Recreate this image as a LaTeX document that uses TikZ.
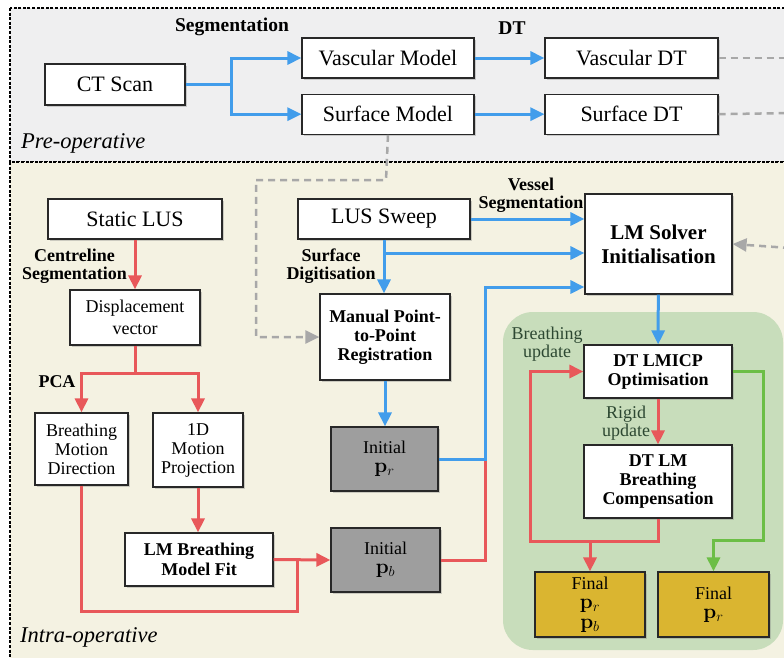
\documentclass[tikz,border=0pt]{standalone}
\usepackage[no-math]{fontspec}
\setmainfont{Liberation Serif}
\usepackage{amsmath}
\usepackage{tikz}
\usetikzlibrary{positioning,calc,arrows.meta,shadows}
\definecolor{preop}{RGB}{239,239,240}
\definecolor{intraop}{RGB}{244,242,226}
\definecolor{loopbg}{RGB}{200,221,187}
\definecolor{flowblue}{RGB}{66,157,235}
\definecolor{flowred}{RGB}{232,88,90}
\definecolor{flowgreen}{RGB}{108,190,70}
\definecolor{flowgray}{RGB}{168,168,168}
\definecolor{initgray}{RGB}{158,158,158}
\definecolor{finalgold}{RGB}{218,181,48}
\definecolor{boxline}{RGB}{40,40,40}
\definecolor{notegreen}{RGB}{45,72,50}
\newcommand{\posevec}[1]{{\fontsize{20.74}{18}\selectfont$\mathbf{p}_{#1}$}}

\begin{document}
\begin{tikzpicture}[x=1pt, y=-1pt, every node/.style={font=\rmfamily}]
  \tikzstyle{box}=[draw=boxline, line width=1.2pt, fill=white, inner sep=1pt, align=center,
    drop shadow={shadow xshift=1.5pt, shadow yshift=-1.5pt, opacity=0.35}]
  \tikzstyle{big}=[font=\fontsize{22}{24}\selectfont]
  \tikzstyle{small}=[font=\fontsize{18}{19}\selectfont]
  \tikzstyle{smallbf}=[font=\fontsize{18}{19}\selectfont\bfseries]
  \tikzstyle{lbl}=[font=\fontsize{18}{18}\selectfont\bfseries, align=center, inner sep=0pt]
  \tikzstyle{note}=[font=\fontsize{18}{18}\selectfont, text=notegreen, align=center, inner sep=0pt]
  \tikzstyle{phase}=[font=\fontsize{22.5}{22}\selectfont\itshape, anchor=west, inner sep=0pt]
  \tikzstyle{region}=[draw=black, line width=1.6pt, dash pattern=on 3pt off 1.6pt]
  \tikzstyle{tip}=[-{Triangle[length=14pt, width=13pt]}]
  \tikzstyle{blueline}=[draw=flowblue, line width=3pt]
  \tikzstyle{redline}=[draw=flowred, line width=3pt]
  \tikzstyle{greenline}=[draw=flowgreen, line width=3pt]
  \tikzstyle{grayline}=[draw=flowgray, line width=2.5pt, dash pattern=on 7pt off 5pt]
  \clip (0,0) rectangle (784,657);

  % pre- and intra-operative areas
  \draw[region, fill=preop] (10,8) rectangle (800,162);
  \draw[region, fill=intraop] (10,162) rectangle (800,690);
  \fill[loopbg, rounded corners=30pt] (503,312) rectangle (783,650);
  \node[phase] (prelbl) at (21,143) {Pre-operative};
  \node[phase] (intralbl) at (20,637) {Intra-operative};

  % pre-operative
  \node[box, big, minimum width=140pt, minimum height=41pt] (ct) at (115,84.5) {CT Scan};
  \node[box, big, minimum width=172pt, minimum height=40pt] (vmodel) at (388,58) {Vascular Model};
  \node[box, big, minimum width=172pt, minimum height=40pt, below=15pt of vmodel] (smodel) {Surface Model};
  \node[box, big, minimum width=173pt, minimum height=40pt] (vdt) at (631.5,58) {Vascular DT};
  \node[box, big, minimum width=173pt, minimum height=40pt, below=15pt of vdt] (sdt) {Surface DT};
  \node[lbl, font=\fontsize{19.5}{19}\selectfont\bfseries] (seglbl) at (232,27) {Segmentation};
  \node[lbl, font=\fontsize{19.5}{19}\selectfont\bfseries] (dtlbl) at (512,28) {DT};

  % intra-operative, vessel branch
  \node[box, big, minimum width=174pt, minimum height=40pt] (slus) at (135,219) {Static LUS};
  \node[box, font=\fontsize{18}{22}\selectfont, minimum width=130pt, minimum height=55pt] (disp) at (135,317.5) {Displacement\\vector};
  \node[box, small, minimum width=93pt, minimum height=72pt] (bmd) at (81.5,449) {Breathing\\Motion\\Direction};
  \node[box, small, minimum width=90pt, minimum height=74pt] (mproj) at (198,450) {1D\\Motion\\Projection};
  \node[box, minimum width=148pt, minimum height=53pt, font=\fontsize{18}{20}\selectfont\bfseries] (lmfit) at (199,559.5) {LM Breathing\\Model Fit};
  \node[lbl] (cllbl) at (74.5,266) {Centreline\\Segmentation};
  \node[lbl] (pcalbl) at (57,382) {PCA};

  % intra-operative, surface branch
  \node[box, big, minimum width=172pt, minimum height=40pt] (sweep) at (384,219) {LUS Sweep};
  \node[box, smallbf, minimum width=130pt, minimum height=86pt] (mreg) at (385,337) {Manual Point-\\to-Point\\Registration};
  \node[box, small, fill=initgray, minimum width=107pt, minimum height=64pt] (pr) at (384.5,459) {Initial\\\posevec{r}};
  \node[box, small, fill=initgray, minimum width=109pt, minimum height=64pt] (pb) at (385.5,560) {Initial\\\posevec{b}};
  \node[lbl] (sdlbl) at (331,266) {Surface\\Digitisation};
  \node[lbl] (vslbl) at (531,195) {Vessel\\Segmentation};

  % solver
  \node[box, font=\fontsize{21}{24}\selectfont\bfseries, minimum width=147pt, minimum height=100pt] (lmsolver) at (658.5,244) {LM Solver\\Initialisation};
  \node[box, smallbf, minimum width=148pt, minimum height=53pt] (lmicp) at (658,371.5) {DT LMICP\\Optimisation};
  \node[box, smallbf, minimum width=148pt, minimum height=73pt] (dtlm) at (658,481.5) {DT LM\\Breathing\\Compensation};
  \node[box, fill=finalgold, minimum width=110pt, minimum height=65pt, font=\fontsize{18}{19.5}\selectfont] (final1) at (590,604.5) {Final\\\posevec{r}\\\posevec{b}};
  \node[box, small, fill=finalgold, minimum width=111pt, minimum height=65pt] (final2) at (713.5,604.5) {Final\\\posevec{r}};
  \node[note] (bulbl) at (547,344) {Breathing\\update};
  \node[note] (rulbl) at (626,423) {Rigid\\update};

  % turning points
  \coordinate (ctsplit) at (231,84.5);
  \coordinate (vdtout) at (790,58);
  \coordinate (sdtout) at (790,113);
  \coordinate (smturn) at (386,180);
  \coordinate (mregturn) at (256,180);
  \coordinate (solverin) at (790,248);
  \coordinate (dispsplit) at (135,373);
  \coordinate (fitjoin) at (297,560);
  \coordinate (bmdturn) at (297,611);
  \coordinate (sweepsplit) at (384,253);
  \coordinate (prturn) at (485,287);
  \coordinate (pbturn) at (485,560);
  \coordinate (pbtop) at (485,459);
  \coordinate (loopleft) at (530,541);
  \coordinate (greenturn) at (763,540);

  % pre-operative flow
  \draw[blueline, tip] (ct.east) -- (ctsplit) |- (vmodel.west);
  \draw[blueline, tip] (ctsplit) |- (smodel.west);
  \draw[blueline, tip] (vmodel) -- (vdt);
  \draw[blueline, tip] (smodel) -- (sdt);
  \draw[grayline] (vdt.east) -- (vdtout);
  \draw[grayline] (sdt.east) -- (sdtout);
  \draw[grayline, tip] (smodel.south) -- (smturn) -- (mregturn) |- (mreg.west);
  \draw[grayline, tip] (solverin) -- (lmsolver.east);

  % vessel branch
  \draw[redline, tip] (slus) -- (disp);
  \draw[redline] (disp.south) -- (dispsplit);
  \draw[redline, tip] (dispsplit) -| (bmd.north);
  \draw[redline, tip] (dispsplit) -| (mproj.north);
  \draw[redline, tip] (mproj.south) -- (mproj.south |- lmfit.north);
  \draw[redline, tip] (lmfit.east) -- (pb.west);
  \draw[redline] (bmd.south) |- (bmdturn) -- (fitjoin);

  % surface branch
  \draw[blueline, tip] (sweep.south) -- (sweep.south |- mreg.north);
  \draw[blueline, tip] (sweep.east) -- (sweep.east -| lmsolver.west);
  \draw[blueline, tip] (sweepsplit) -- (sweepsplit -| lmsolver.west);
  \draw[blueline, tip] (mreg.south) -- (mreg.south |- pr.north);
  \draw[redline] (pb.east) -- (pbturn) -- (pbtop);
  \draw[blueline, tip] (pr.east) -| (prturn) -- (prturn -| lmsolver.west);

  % solver loop
  \draw[blueline, tip] (lmsolver) -- (lmicp);
  \draw[redline, tip] (lmicp) -- (dtlm);
  \draw[redline, tip] (dtlm.south) |- (loopleft) |- (lmicp.west);
  \draw[redline, tip] (final1.north |- loopleft) -- (final1.north);
  \draw[greenline, tip] (lmicp.east) -| (greenturn) -| (final2.north);
\end{tikzpicture}
\end{document}
